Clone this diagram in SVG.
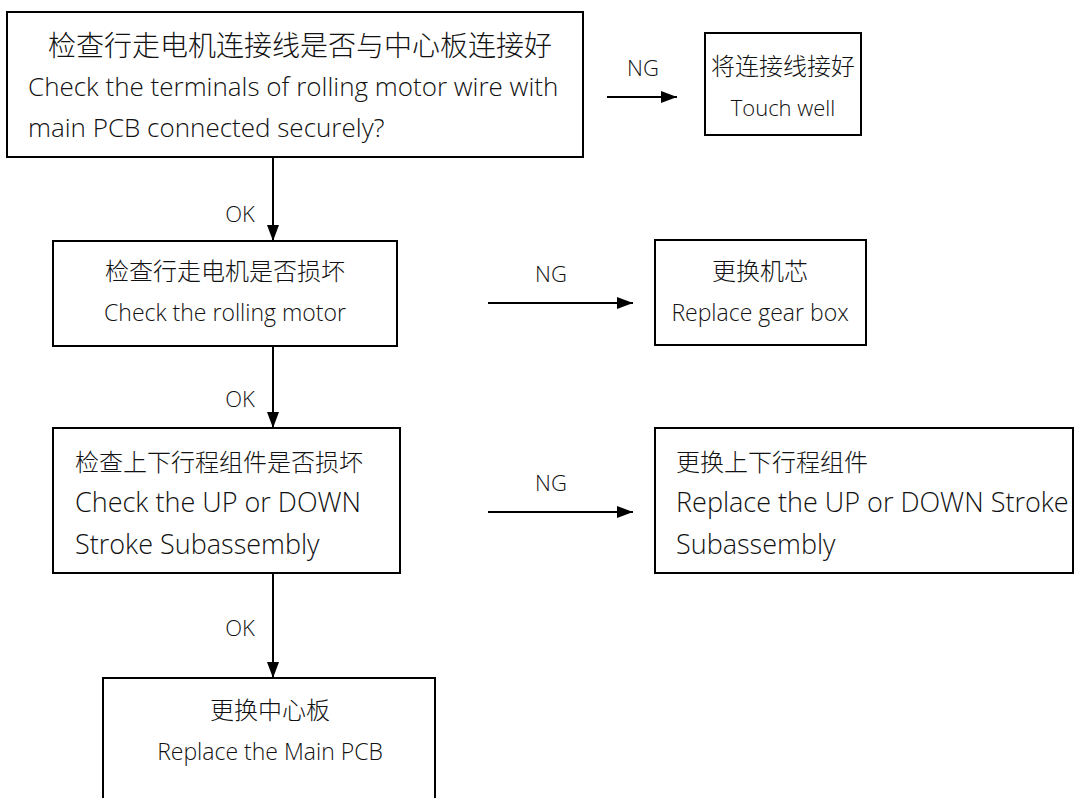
<svg xmlns="http://www.w3.org/2000/svg" width="1076" height="798" viewBox="0 0 1076 798">
<style>
.box{fill:#fff;stroke:#000;stroke-width:2}
.t{font-family:"Open Sans","Noto Sans CJK SC",sans-serif;font-size:23px;fill:#111;font-weight:300}
.cn{font-family:"Noto Sans CJK SC",sans-serif;font-size:24px;fill:#111;font-weight:300}
.big{font-size:28px}
.en1{font-size:26px}
.en2{font-size:22px}
.en5{font-size:27px}
.c{text-anchor:middle}
.lbl{font-family:"Open Sans","Noto Sans",sans-serif;font-size:22px;fill:#111;font-weight:300;text-anchor:middle}
.ln{stroke:#000;stroke-width:2;fill:none}
</style>
<defs>
<marker id="ah" viewBox="0 0 16 12" refX="16" refY="6" markerWidth="16" markerHeight="12" markerUnits="userSpaceOnUse" orient="auto">
<path d="M0,0 L16,6 L0,12 Z" fill="#000"/>
</marker>
</defs>
<g id="connectors">
<line class="ln" x1="607" y1="97" x2="677" y2="97" marker-end="url(#ah)"/>
<text class="lbl" x="643" y="76">NG</text>
<line class="ln" x1="273" y1="157" x2="273" y2="241" marker-end="url(#ah)"/>
<text class="lbl" x="240" y="222">OK</text>
<line class="ln" x1="488" y1="303" x2="633" y2="303" marker-end="url(#ah)"/>
<text class="lbl" x="551" y="282">NG</text>
<line class="ln" x1="273" y1="346" x2="273" y2="428" marker-end="url(#ah)"/>
<text class="lbl" x="240" y="407">OK</text>
<line class="ln" x1="488" y1="512" x2="633" y2="512" marker-end="url(#ah)"/>
<text class="lbl" x="551" y="491">NG</text>
<line class="ln" x1="273" y1="573" x2="273" y2="678" marker-end="url(#ah)"/>
<text class="lbl" x="240" y="636">OK</text>
</g>
<g id="n1">
<rect class="box" x="7" y="12" width="576" height="145"/>
<text class="cn big c" x="300" y="56">检查行走电机连接线是否与中心板连接好</text>
<text class="t en1" x="28" y="96">Check the terminals of rolling motor wire with</text>
<text class="t en1" x="28" y="137">main PCB connected securely?</text>
</g>
<g id="n2">
<rect class="box" x="705" y="33" width="156" height="102"/>
<text class="cn c" x="783" y="75">将连接线接好</text>
<text class="t en2 c" x="783" y="116">Touch well</text>
</g>
<g id="n3">
<rect class="box" x="53" y="241" width="344" height="105"/>
<text class="cn c" x="225" y="280">检查行走电机是否损坏</text>
<text class="t c" x="225" y="321">Check the rolling motor</text>
</g>
<g id="n4">
<rect class="box" x="655" y="240" width="211" height="105"/>
<text class="cn c" x="760" y="280">更换机芯</text>
<text class="t c" x="760" y="321">Replace gear box</text>
</g>
<g id="n5">
<rect class="box" x="53" y="428" width="347" height="145"/>
<text class="cn" x="75" y="471">检查上下行程组件是否损坏</text>
<text class="t en5" x="75" y="512">Check the UP or DOWN</text>
<text class="t en5" x="75" y="554">Stroke Subassembly</text>
</g>
<g id="n6">
<rect class="box" x="655" y="428" width="418" height="145"/>
<text class="cn" x="676" y="471">更换上下行程组件</text>
<text class="t en5" x="676" y="512">Replace the UP or DOWN Stroke</text>
<text class="t en5" x="676" y="554">Subassembly</text>
</g>
<g id="n7">
<rect class="box" x="103" y="678" width="332" height="140"/>
<text class="cn c" x="270" y="719">更换中心板</text>
<text class="t c" x="270" y="760">Replace the Main PCB</text>
</g>
</svg>
